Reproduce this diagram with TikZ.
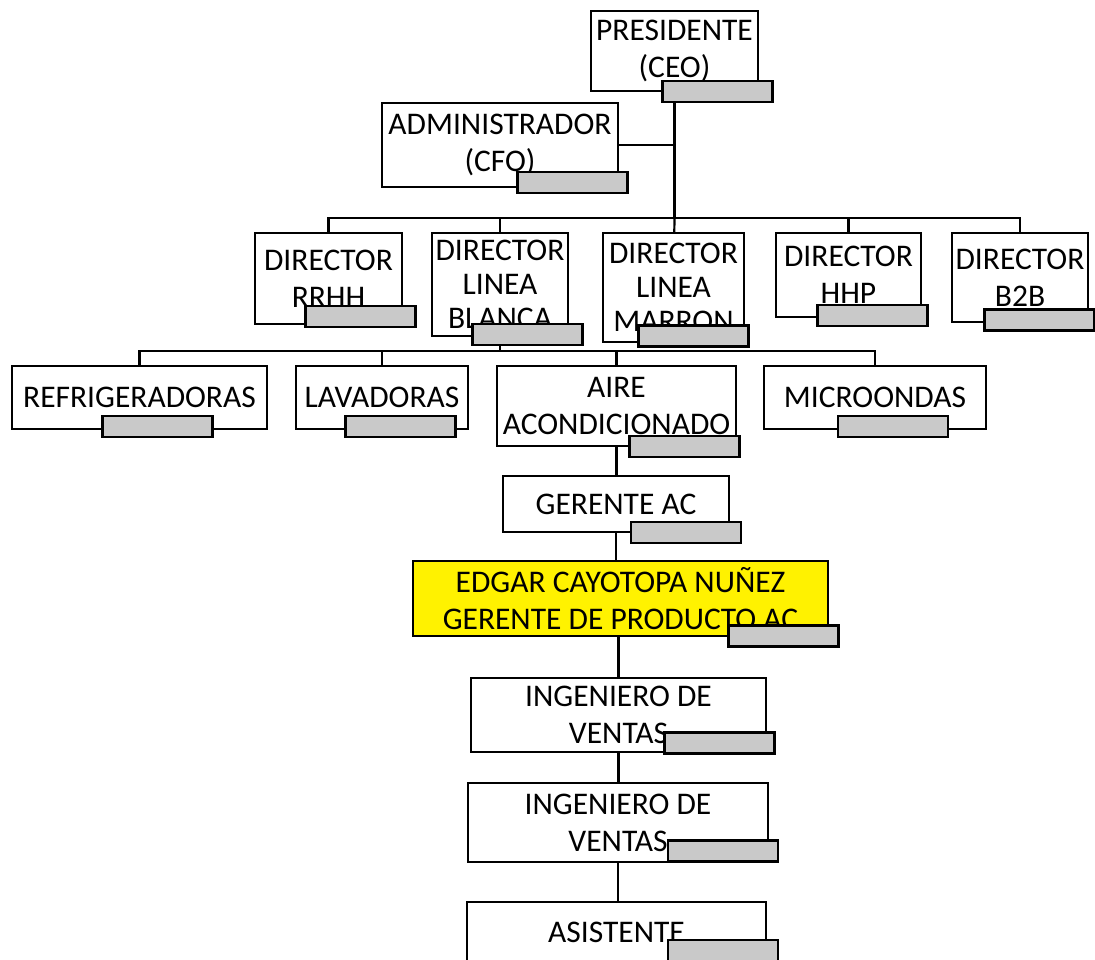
\documentclass[tikz,border=0pt]{standalone}
\usepackage{fontspec}
\setmainfont{Carlito}
\usepackage{tikz}
\usetikzlibrary{positioning, backgrounds}

\begin{document}
\begin{tikzpicture}[
        x=1pt, y=-1pt,
        every node/.style={font=\fontsize{31.5}{37}\selectfont},
        orgbox/.style={rectangle, draw, line width=2.1pt, fill=white,
        inner sep=0pt, align=center},
        tallbox/.style={orgbox, font=\fontsize{31.5}{34}\selectfont},
        namebar/.style={rectangle, draw, line width=2.3pt, fill=black!21,
        minimum width=110pt, minimum height=21pt},
        link/.style={line width=2.2pt},
        trunk/.style={line width=3.2pt},
      ]

      \useasboundingbox (0,0) rectangle (1095,959);

      % top
      \node[orgbox, minimum width=167pt, minimum height=80pt] (ceo) at (674.5,51) {PRESIDENTE\\(CEO)};
      \node[orgbox, minimum width=236pt, minimum height=84pt] (admin) at (500,145) {ADMINISTRADOR\\(CFO)};

      % directores
      \node[orgbox, minimum width=147pt, minimum height=91pt] (rrhh) at (328.5,278.5) {DIRECTOR\\RRHH};
      \node[tallbox, minimum width=136pt, minimum height=103pt] (blanca) at (500,284.5) {DIRECTOR\\LINEA\\BLANCA};
      \node[tallbox, minimum width=141pt, minimum height=109pt] (marron) at (673.5,287.5) {DIRECTOR\\LINEA\\MARRON};
      \node[orgbox, minimum width=145pt, minimum height=84pt] (hhp) at (848.5,275) {DIRECTOR\\HHP};
      \node[orgbox, minimum width=136pt, minimum height=89pt] (b2b) at (1020,277.5) {DIRECTOR\\B2B};

      % linea blanca
      \node[orgbox, minimum width=255pt, minimum height=63pt] (refri) at (139.5,397.5) {REFRIGERADORAS};
      \node[orgbox, minimum width=172pt, minimum height=63pt] (lava) at (382,397.5) {LAVADORAS};
      \node[orgbox, minimum width=239pt, minimum height=80pt] (aire) at (616.5,406) {AIRE\\ACONDICIONADO};
      \node[orgbox, minimum width=222pt, minimum height=63pt] (micro) at (875,397.5) {MICROONDAS};

      % aire acondicionado
      \node[orgbox, minimum width=226pt, minimum height=56pt] (gerente) at (616,504) {GERENTE AC};
      \node[orgbox, fill=yellow, minimum width=415pt, minimum height=75pt] (edgar) at (620.5,598.5) {EDGAR CAYOTOPA NUÑEZ\\GERENTE DE PRODUCTO AC};
      \node[orgbox, minimum width=295pt, minimum height=74pt] (ing1) at (618.5,715) {INGENIERO DE\\VENTAS};
      \node[orgbox, minimum width=300pt, minimum height=79pt] (ing2) at (618,822.5) {INGENIERO DE\\VENTAS};
      \node[orgbox, minimum width=299pt, minimum height=60pt] (asist) at (616.5,932) {ASISTENTE};

      % name bars
      \node[namebar] (ceo-bar) at (717.5,91.5) {};
      \node[namebar] (admin-bar) at (572.5,182.5) {};
      \node[namebar] (rrhh-bar) at (360.5,316.5) {};
      \node[namebar] (blanca-bar) at (527.5,334.5) {};
      \node[namebar] (marron-bar) at (693.5,336) {};
      \node[namebar] (hhp-bar) at (872.5,315.5) {};
      \node[namebar] (b2b-bar) at (1039.5,320) {};
      \node[namebar] (refri-bar) at (157.5,426.5) {};
      \node[namebar] (lava-bar) at (400.5,426.5) {};
      \node[namebar] (aire-bar) at (684.5,446.5) {};
      \node[namebar] (micro-bar) at (893,426.5) {};
      \node[namebar] (gerente-bar) at (686,532.5) {};
      \node[namebar] (edgar-bar) at (783.5,636) {};
      \node[namebar] (ing1-bar) at (719.5,743) {};
      \node[namebar] (ing2-bar) at (723,851) {};
      \node[namebar] (asist-bar) at (723,950.5) {};

      \coordinate (bus1) at (674.5,218);
      \coordinate (bus2) at (500,351);

      \begin{scope}[on background layer]
        \draw[trunk] (ceo) -- (bus1);
        \draw[link] (admin) -- (admin -| ceo);
        \draw[link] (bus1) -| (rrhh);
        \draw[link] (bus1) -| (blanca);
        \draw[link] (bus1) -- (marron);
        \draw[link] (bus1) -| (hhp);
        \draw[link] (bus1) -| (b2b);

        \draw[link] (blanca) -- (bus2);
        \draw[link] (bus2) -| (refri);
        \draw[link] (bus2) -| (lava);
        \draw[link] (bus2) -| (aire);
        \draw[link] (bus2) -| (micro);

        \draw[link] (aire) -- (aire |- gerente);
        \draw[link] (gerente) -- (gerente |- edgar);
        \draw[link] (ing1 |- edgar) -- (ing1);
        \draw[link] (ing1) -- (ing1 |- ing2);
        \draw[link] (ing2) -- (ing2 |- asist);
      \end{scope}

    \end{tikzpicture}
\end{document}
